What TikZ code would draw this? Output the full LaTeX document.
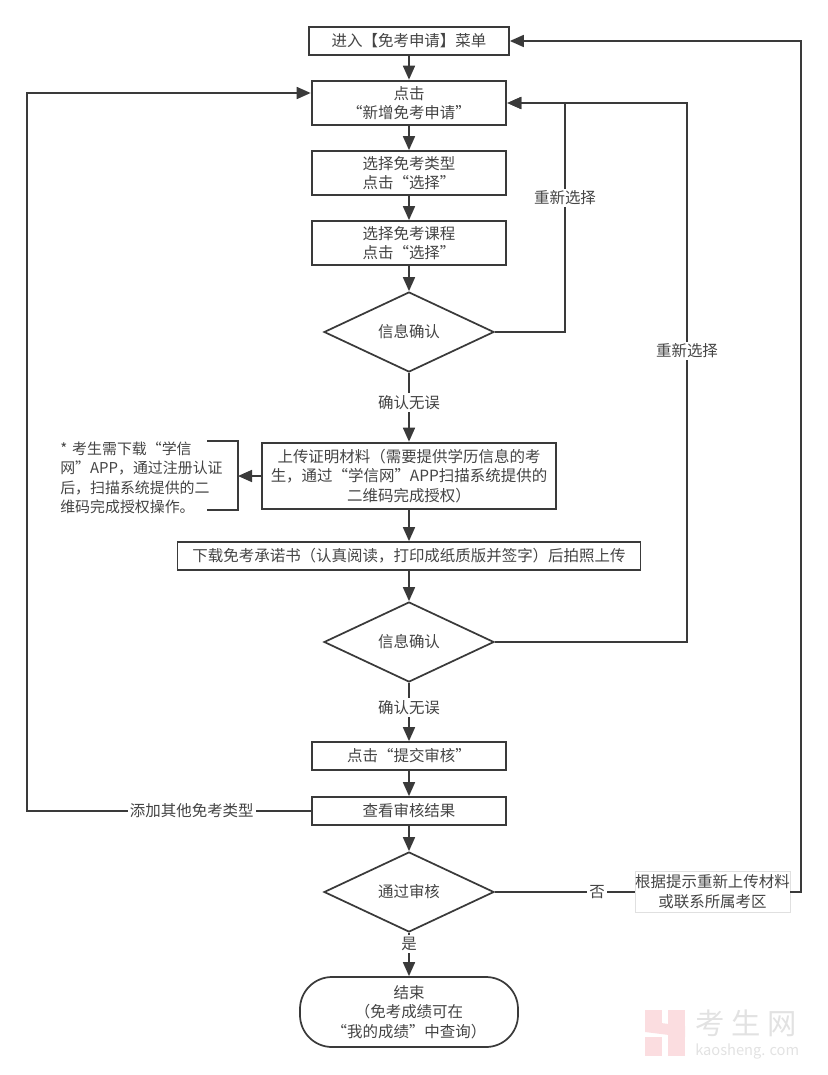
\documentclass[tikz,border=0pt]{standalone}
\usepackage{fontspec}
\setmainfont{Noto Sans CJK SC}
\usetikzlibrary{arrows.meta,shapes.geometric,positioning}
\definecolor{ink}{HTML}{3A3A3A}
\definecolor{tx}{HTML}{444444}
\definecolor{wmred}{HTML}{FBDDE0}
\definecolor{wmgray}{HTML}{E2E2E2}
\tikzset{
 x=0.75pt,y=-0.75pt,
 base/.style={draw=ink,line width=1.3pt,align=center,text=tx,font=\fontsize{11.6}{14.8}\selectfont,inner sep=0pt,fill=white},
 bx/.style={base,rectangle,minimum width=#1*0.75pt},
 dia/.style={base,diamond,aspect=2.125,minimum width=127.5pt,minimum height=60pt},
 lab/.style={text=tx,fill=white,font=\fontsize{11.6}{14}\selectfont,inner sep=1.5pt},
 cn/.style={draw=ink,line width=1.3pt,-{Triangle[length=10.5pt,width=9pt]}},
 pl/.style={draw=ink,line width=1.3pt},
}
\begin{document}
\begin{tikzpicture}
\useasboundingbox (0,0) rectangle (828,1075);
\node[bx=200,minimum height=21pt] (menu) at (409,41) {进入【免考申请】菜单};
\node[bx=194,minimum height=33pt,line width=2pt] (add) at (409,103) {点击\\“新增免考申请”};
\node[bx=194,minimum height=33pt] (type) at (409,173) {选择免考类型\\点击“选择”};
\node[bx=194,minimum height=33pt] (course) at (409,243) {选择免考课程\\点击“选择”};
\node[dia] (d1) at (409,332) {信息确认};
\node[bx=294,minimum height=49.5pt,line width=2pt] (up) at (409,476) {上传证明材料（需要提供学历信息的考\\生，通过“学信网”APP扫描系统提供的\\二维码完成授权）};
\node[bx=463,minimum height=21pt] (dl) at (409,556) {下载免考承诺书（认真阅读，打印成纸质版并签字）后拍照上传};
\node[dia] (d2) at (409,642) {信息确认};
\node[bx=194,minimum height=21pt] (sub) at (409,756) {点击“提交审核”};
\node[bx=194,minimum height=21pt] (res) at (409,811) {查看审核结果};
\node[dia] (d3) at (409,892) {通过审核};
\node[base,rectangle,rounded corners=24pt,minimum width=163.5pt,minimum height=52.5pt] (end) at (409,1012) {结束\\（免考成绩可在\\“我的成绩”中查询）};
\node[rectangle,draw=black!12,line width=0.4pt,fill=white,align=center,text=tx,font=\fontsize{11.6}{14.8}\selectfont,inner sep=0pt,minimum width=116pt,minimum height=31pt] (re) at (712.5,892) {根据提示重新上传材料\\或联系所属考区};
\node[align=left,text=tx,font=\fontsize{11.2}{14.6}\selectfont,inner sep=0pt,anchor=west] (note) at (60,478) {*\,\,考生需下载“学信\\网”APP，通过注册认证\\后，扫描系统提供的二\\维码完成授权操作。};
\coordinate (br) at (238,476);
\coordinate (lft) at (27,93);
\coordinate (lfb) at (27,811);
\coordinate (r1a) at (565,332);
\coordinate (r1b) at (565,103);
\coordinate (r2a) at (687,642);
\coordinate (r2b) at (687,103);
\coordinate (r3a) at (801,892);
\coordinate (r3b) at (801,41);
\draw[pl] (207,441) -| (br) |- (207,510);
\draw[cn] (up.west) -- (br);
\draw[cn] (menu) -- (add);
\draw[cn] (add) -- (type);
\draw[cn] (type) -- (course);
\draw[cn] (course) -- (d1);
\draw[cn] (d1) -- node[lab,pos=0.43] {确认无误} (up);
\draw[cn] (up) -- (dl);
\draw[cn] (dl) -- (d2);
\draw[cn] (d2) -- node[lab,pos=0.42] {确认无误} (sub);
\draw[cn] (sub) -- (res);
\draw[cn] (res) -- (d3);
\draw[cn] (d3) -- node[lab,pos=0.25] {是} (end);
\draw[cn] (d1.east) -- (r1a) -- node[lab,pos=0.585] {重新选择} (r1b) -- (add.east |- r1b);
\draw[cn] (d2.east) -- (r2a) -- node[lab,pos=0.54] {重新选择} (r2b) -- (add.east |- r2b);
\draw[pl] (d3.east) -- node[lab,pos=0.73] {否} (re.west);
\draw[cn] (re.east) -- (r3a) -- (r3b) -- (menu.east);
\draw[cn] (res.west) -- node[lab,pos=0.42] {添加其他免考类型} (lfb) -- (lft) -- (add.west |- lft);
% watermark
\fill[wmred] (645,1010) rectangle (662,1032);
\fill[wmred] (668,1010) rectangle (685,1056);
\fill[wmred] (645,1037) rectangle (662,1056);
\fill[wmred] (645,1021) -- (685,1026) -- (685,1037) -- (645,1032) -- cycle;
\node[text=wmgray,inner sep=0pt,font=\fontsize{22}{22}\selectfont,anchor=west] (wm) at (695,1023) {考\hspace{5pt}生\hspace{5pt}网};
\node[text=wmgray,inner sep=0pt,font=\fontsize{11}{11}\selectfont,anchor=west] (wm2) at (695,1051) {kaosheng.\hspace{3pt}com};
\end{tikzpicture}
\end{document}
